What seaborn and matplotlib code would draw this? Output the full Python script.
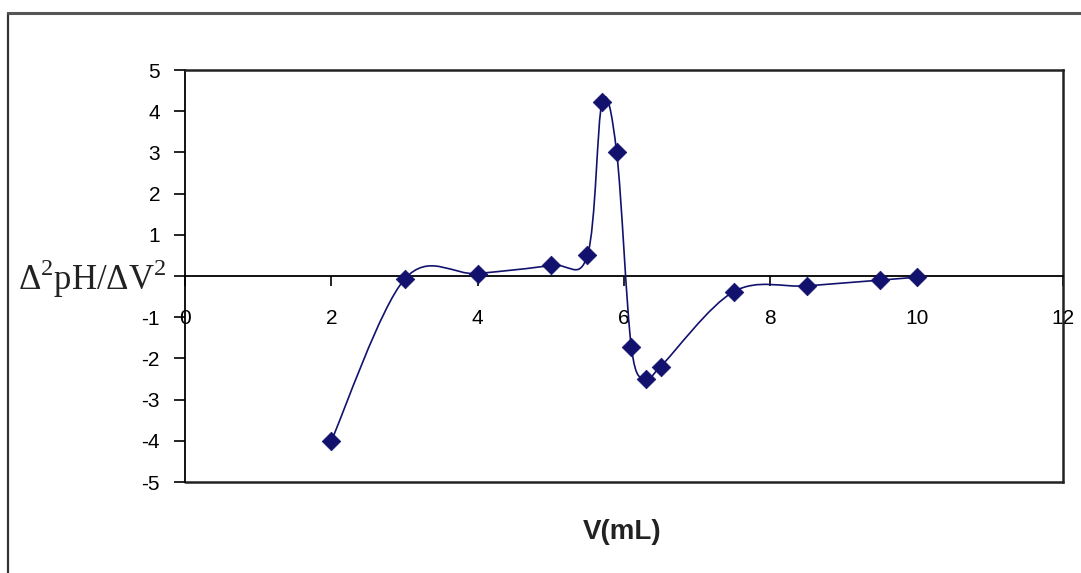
import numpy as np
import matplotlib
matplotlib.use("Agg")
import matplotlib.pyplot as plt
from matplotlib.path import Path
from matplotlib.patches import PathPatch
from matplotlib.lines import Line2D
import seaborn as sns

# Data
volume = [2, 3, 4, 5, 5.5, 5.7, 5.9, 6.1, 6.3, 6.5, 7.5, 8.5, 9.5, 10]
d2ph = [-4.0, -0.08, 0.06, 0.26, 0.5, 4.22, 3.0, -1.72, -2.5, -2.2, -0.38, -0.24, -0.1, -0.03]
x_ticks = [0, 2, 4, 6, 8, 10, 12]
y_ticks = [-5, -4, -3, -2, -1, 0, 1, 2, 3, 4, 5]
# the axis title covers the 0 on the y axis in the original
y_labels = ["-5", "-4", "-3", "-2", "-1", "", "1", "2", "3", "4", "5"]

sns.set_style("white")
plt.rcParams["font.family"] = ["Liberation Sans", "DejaVu Sans"]
plt.rcParams["mathtext.fontset"] = "custom"
plt.rcParams["mathtext.rm"] = "Liberation Serif"
plt.rcParams["axes.unicode_minus"] = False

navy = "#12126e"

fig = plt.figure(figsize=(10.81, 5.73), dpi=100)
ax = fig.add_axes([185 / 1081, 1 - 482 / 573, (1063 - 185) / 1081, (482 - 70) / 573])

# Excel style smoothed line (Catmull-Rom bezier through the points)
pts = np.column_stack([volume, d2ph])
ext = np.vstack([pts[0], pts, pts[-1]])
verts = [tuple(pts[0])]
codes = [Path.MOVETO]
for i in range(len(pts) - 1):
    p0, p1, p2, p3 = ext[i], ext[i + 1], ext[i + 2], ext[i + 3]
    c1 = p1 + (p2 - p0) / 6
    c2 = p2 - (p3 - p1) / 6
    verts += [tuple(c1), tuple(c2), tuple(p2)]
    codes += [Path.CURVE4] * 3
ax.add_patch(PathPatch(Path(verts, codes), facecolor="none", edgecolor=navy, lw=1.2, zorder=3))

sns.scatterplot(x=volume, y=d2ph, marker="D", s=90, color=navy, edgecolor=navy, linewidth=0.5, ax=ax, zorder=4)

ax.set_xlim(0, 12)
ax.set_ylim(-5, 5)
ax.set_xticks(x_ticks)
ax.set_yticks(y_ticks)
ax.set_yticklabels(y_labels)

# x axis sits on y = 0
ax.spines["bottom"].set_position(("data", 0))
for s in ax.spines.values():
    s.set_color("black")
    s.set_linewidth(1.3)
ax.axhline(-5, color="#222222", lw=1.8, clip_on=False, zorder=2)
ax.spines["top"].set_color("#222222")
ax.spines["top"].set_linewidth(1.8)
ax.spines["right"].set_color("#222222")
ax.spines["right"].set_linewidth(1.8)

ax.tick_params(axis="y", direction="out", length=8, width=1.2, pad=10, labelsize=15, left=True, colors="black")
ax.tick_params(axis="x", direction="out", length=7, width=1.2, pad=17, labelsize=15, bottom=True, colors="black")
ax.grid(False)

ax.set_xlabel("")
ax.set_ylabel("")
fig.text(622 / 1081, 1 - 532 / 573, "V(mL)", ha="center", va="center", fontsize=20, fontweight="bold",
         color="#222222")
fig.text(18 / 1081, 1 - 279 / 573, r"Δ$^{2}$pH/ΔV$^{2}$", ha="left", va="center", fontsize=25,
         family=["Liberation Serif", "DejaVu Serif"], color="#222222")

# outer chart border
fx = 8 / 1081
fy = 1 - 13 / 573
fig.add_artist(Line2D([fx, fx], [0, fy], color="#333333", lw=1.6))
fig.add_artist(Line2D([fx, 1], [fy, fy], color="#555555", lw=2.2))

fig.savefig("out.png", dpi=100)
